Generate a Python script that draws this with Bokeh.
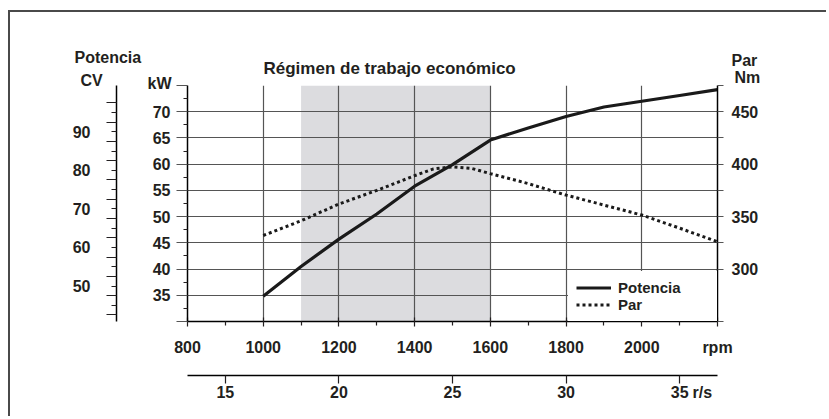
from bokeh.plotting import figure
from bokeh.models import (Range1d, LinearAxis, FixedTicker, BoxAnnotation, Title,
                          Legend, LegendItem)
from bokeh.embed import file_html
from bokeh.resources import INLINE

# ---------------- data ----------------
rpm = [1000, 1100, 1200, 1300, 1400, 1500, 1600, 1700, 1800, 1900, 2000, 2100, 2200]
potencia_kw = [34.8, 40.5, 45.7, 50.5, 55.8, 59.9, 64.6, 66.9, 69.1, 70.9, 72.0, 73.1, 74.2]

par_rpm = [1000, 1100, 1200, 1300, 1400, 1450, 1500, 1550, 1600, 1700, 1800, 1900, 2000, 2100, 2200]
par_nm = [332, 346, 362, 375, 389, 395.5, 397.5, 396, 391, 381.5, 370.5, 361, 351.5, 339, 326]

econ_band = [1100, 1600]          # "Régimen de trabajo económico"

rpm_range = [800, 2200]
rpm_ticks = [800, 1000, 1200, 1400, 1600, 1800, 2000, 2200]
rpm_minor = [900, 1100, 1300, 1500, 1700, 1900, 2100]
rpm_grid = [1000, 1200, 1400, 1600, 1800, 2000]

kw_range = [30, 75]
kw_ticks = [30, 35, 40, 45, 50, 55, 60, 65, 70, 75]
kw_minor = [32.5, 37.5, 42.5, 47.5, 52.5, 57.5, 62.5, 67.5, 72.5]
kw_labels = [35, 40, 45, 50, 55, 60, 65, 70]
kw_grid = [35, 40, 45, 50, 55, 60, 65, 70, 75]

KW_TO_CV = 1.36
cv_major = [45, 50, 55, 60, 65, 70, 75, 80, 85, 90, 95]
cv_minor = [42.5, 47.5, 52.5, 57.5, 62.5, 67.5, 72.5, 77.5, 82.5, 87.5, 92.5, 97.5]
cv_labels = [50, 60, 70, 80, 90]

par_range = [250, 475]
par_ticks = [250, 300, 325, 350, 375, 400, 425, 450, 475]
par_labels = [300, 350, 400, 450]

rs_ticks = [15, 20, 25, 30, 35]
rs_unit_pos = 36                  # where the "r/s" unit text sits on the r/s scale

FONT = "Liberation Sans"
INK = "#231f20"
GRID = "#555555"

# ---------------- figure ----------------
p = figure(width=818, height=406,
           x_range=Range1d(*rpm_range), y_range=Range1d(*kw_range),
           output_backend="svg", toolbar_location=None,
           min_border_left=177, min_border_right=111,
           min_border_top=73, min_border_bottom=97)
p.margin = (10, 0, 0, 8)
p.styles = {"border-top": "2px solid #4a4a4a", "border-left": "2px solid #4a4a4a"}
p.outline_line_color = None
p.background_fill_color = "white"
p.border_fill_color = "white"

p.extra_y_ranges = {
    "cv": Range1d(kw_range[0] * KW_TO_CV, kw_range[1] * KW_TO_CV),
    "par": Range1d(*par_range),
}
p.extra_x_ranges = {"rs": Range1d(rpm_range[0] / 60, rpm_range[1] / 60)}

band = BoxAnnotation(left=econ_band[0], right=econ_band[1], fill_color="#dcdcdf",
                     fill_alpha=1.0, line_color=None, level="image")
p.add_layout(band)

p.xgrid.ticker = FixedTicker(ticks=rpm_grid)
p.ygrid.ticker = FixedTicker(ticks=kw_grid)
p.xgrid.grid_line_color = GRID
p.ygrid.grid_line_color = GRID
p.xgrid.grid_line_width = 1.2
p.ygrid.grid_line_width = 1.2


def style(ax, size="16px"):
    ax.major_label_text_font = FONT
    ax.major_label_text_font_size = size
    ax.major_label_text_font_style = "bold"
    ax.major_label_text_color = INK
    ax.axis_line_color = "black"
    ax.axis_line_width = 1.5
    ax.major_tick_line_width = 1.2
    ax.minor_tick_line_width = 1.2


# kW axis (inner left)
ya = p.yaxis[0]
style(ya)
ya.ticker = FixedTicker(ticks=kw_ticks, minor_ticks=kw_minor)
ya.major_label_overrides = {v: "" for v in kw_ticks if v not in kw_labels}
ya.major_tick_out = 11
ya.major_tick_in = 0
ya.major_tick_line_color = GRID
ya.minor_tick_out = 4
ya.minor_tick_in = 0
ya.minor_tick_line_color = INK
ya.major_label_standoff = 6
ya.axis_label = " "
ya.axis_label_text_alpha = 0
ya.axis_label_text_font_size = "16px"
ya.axis_label_standoff = 13

# CV axis (outer left)
cv = LinearAxis(y_range_name="cv", ticker=FixedTicker(ticks=cv_major, minor_ticks=cv_minor))
style(cv)
cv.major_label_overrides = {v: "" for v in cv_major if v not in cv_labels}
cv.major_tick_out = 5
cv.major_tick_in = 0
cv.minor_tick_out = 10
cv.minor_tick_in = 0
cv.major_tick_line_color = INK
cv.minor_tick_line_color = INK
cv.major_label_standoff = 16
p.add_layout(cv, "left")

# Par axis (right)
pa = LinearAxis(y_range_name="par", ticker=FixedTicker(ticks=par_ticks, minor_ticks=[]))
style(pa)
pa.major_label_overrides = {v: "" for v in par_ticks if v not in par_labels}
pa.major_tick_out = 6
pa.major_tick_in = 0
pa.major_tick_line_color = GRID
pa.minor_tick_line_color = None
pa.major_label_standoff = 8
p.add_layout(pa, "right")

# rpm axis (inner bottom)
xa = p.xaxis[0]
style(xa)
xa.ticker = FixedTicker(ticks=rpm_ticks, minor_ticks=rpm_minor)
xa.major_label_overrides = {rpm_ticks[-1]: "rpm"}
xa.major_tick_in = 4
xa.major_tick_out = 5
xa.minor_tick_in = 0
xa.minor_tick_out = 4
xa.major_tick_line_color = INK
xa.minor_tick_line_color = INK
xa.major_label_standoff = 12
xa.axis_label = " "
xa.axis_label_text_alpha = 0
xa.axis_label_text_font_size = "12px"
xa.axis_label_standoff = 0

# r/s axis (outer bottom): marks drawn as minor ticks, labels carried by zero-length major ticks
rs = LinearAxis(x_range_name="rs",
                ticker=FixedTicker(ticks=rs_ticks + [rs_unit_pos], minor_ticks=rs_ticks))
style(rs)
rs.major_label_overrides = {rs_unit_pos: "r/s"}
rs.major_tick_out = 0
rs.major_tick_in = 0
rs.minor_tick_out = 8
rs.minor_tick_in = 0
rs.minor_tick_line_color = INK
rs.major_label_standoff = 0
p.add_layout(rs, "below")

# ---------------- curves ----------------
r1 = p.line(rpm, potencia_kw, line_color="#1a1a1a", line_width=3.2)
r2 = p.line(par_rpm, par_nm, y_range_name="par", line_color="#1a1a1a",
            line_width=3, line_dash="3 3")

legend = Legend(items=[LegendItem(label="Potencia", renderers=[r1]),
                       LegendItem(label="Par", renderers=[r2])],
                location="bottom_right", margin=0, padding=8, spacing=0,
                glyph_width=35, glyph_height=17, label_height=17,
                label_standoff=7, label_width=91,
                border_line_color="white", border_line_alpha=0.0,
                background_fill_color="white", background_fill_alpha=1.0,
                label_text_font=FONT, label_text_font_size="15px",
                label_text_font_style="bold", label_text_color=INK)
p.add_layout(legend)

# ---------------- header texts (title rows above the frame) ----------------
TEXT_H = 18


def header(text, offset, row_h, size="16px"):
    t = Title(text=text, align="left", offset=offset, vertical_align="middle",
              standoff=int(round(row_h - 2 - TEXT_H)),
              text_font=FONT, text_font_size=size, text_font_style="bold",
              text_color=INK)
    p.add_layout(t, "above")


header("kW", -40, 6)
header("CV", -107, 0)
header("Nm", 547, 8)
header("Régimen de trabajo económico", 76, 10, size="17px")
header("Par", 544, 6)
header("Potencia", -113, 0)

open("out.html", "w").write(file_html(p, INLINE))
